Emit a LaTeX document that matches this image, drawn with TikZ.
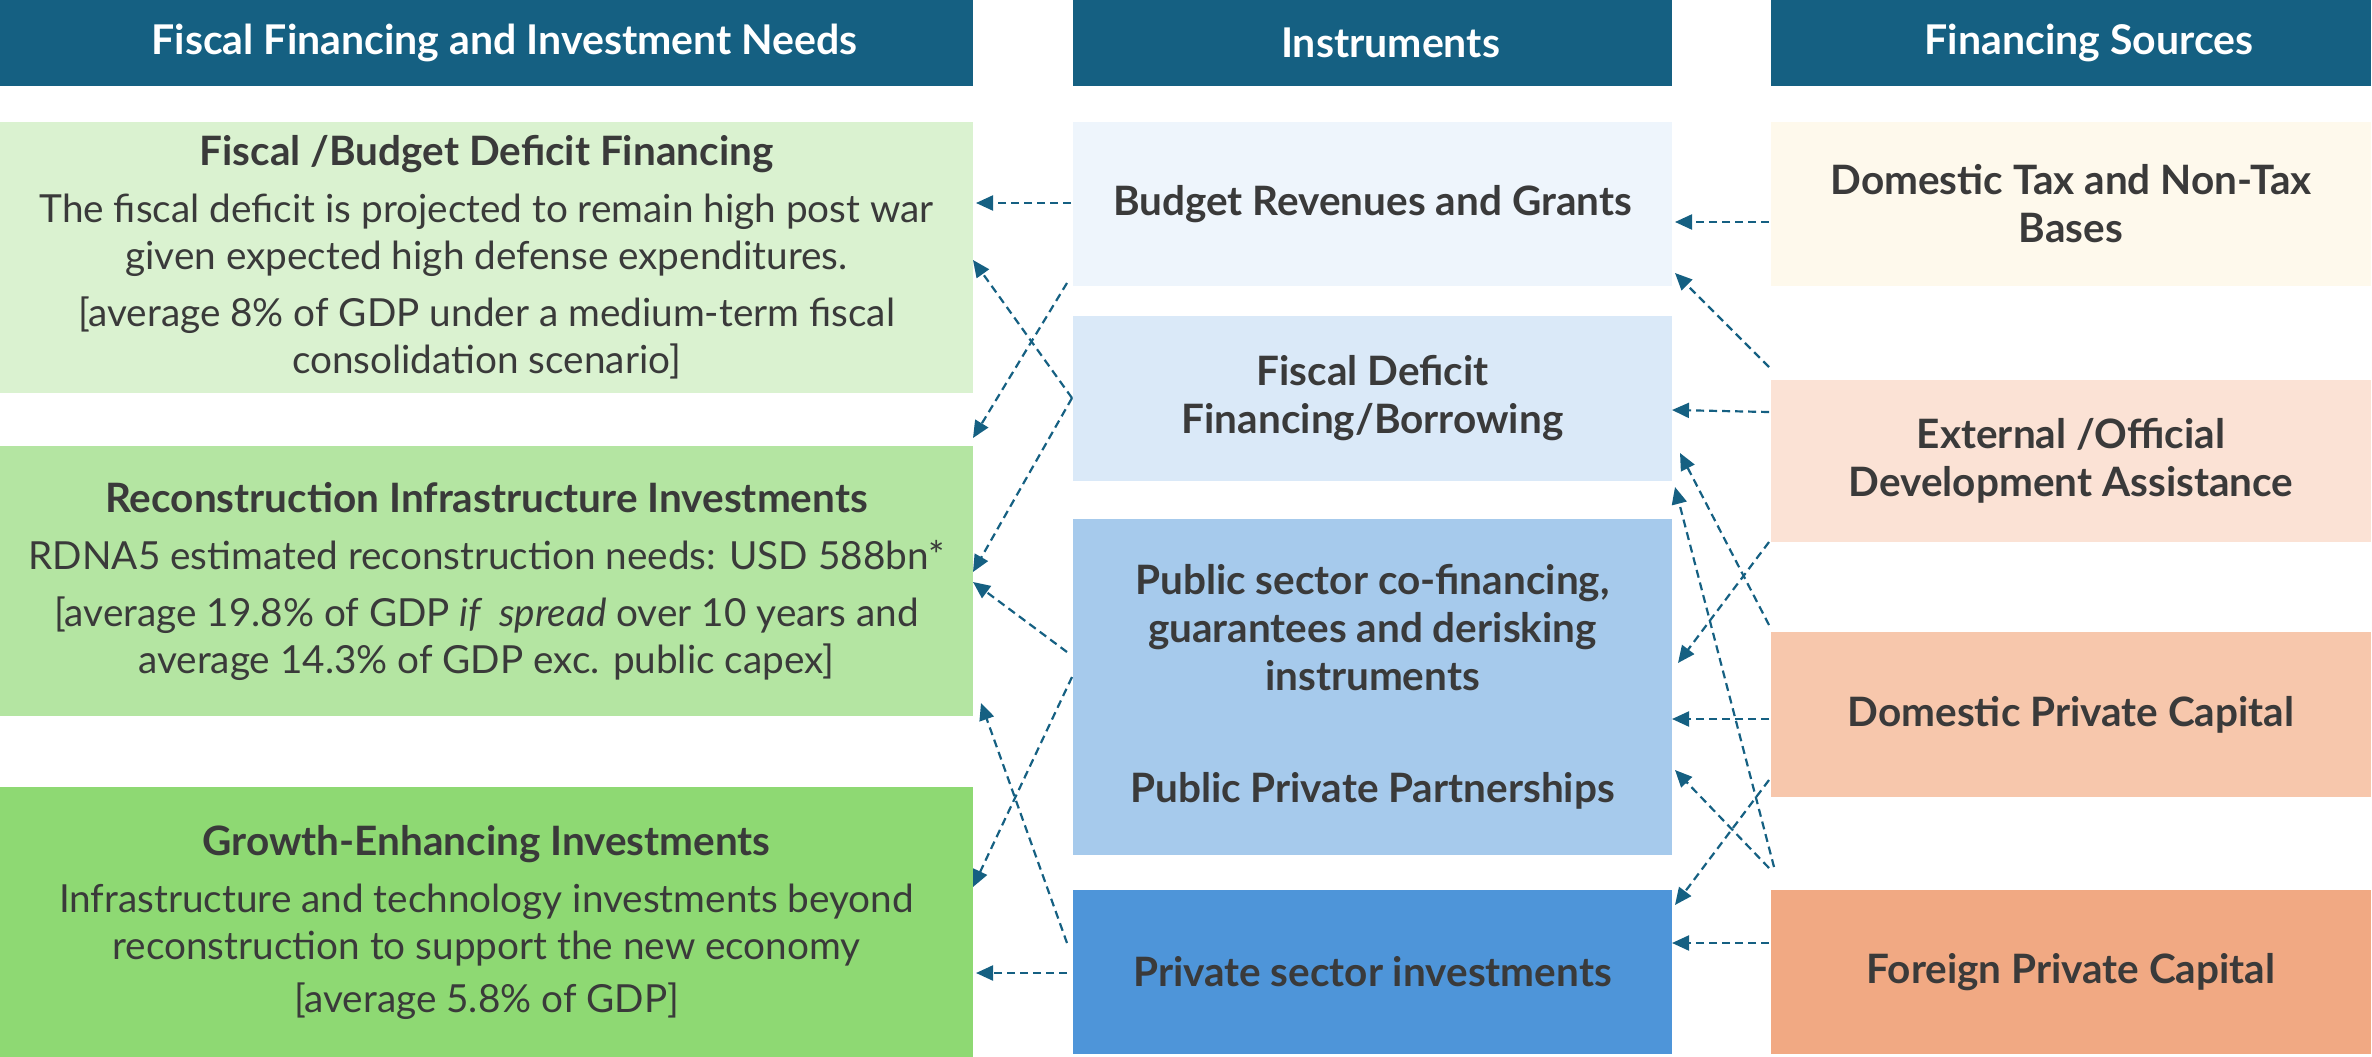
\documentclass[tikz,border=0pt]{standalone}
\usepackage{fontspec}
\setmainfont{Lato}
\usetikzlibrary{arrows.meta,calc}

\definecolor{headblue}{HTML}{156082}
\definecolor{ink}{HTML}{3A3A3A}
\definecolor{greenA}{HTML}{DAF2D0}
\definecolor{greenB}{HTML}{B4E5A2}
\definecolor{greenC}{HTML}{8ED973}
\definecolor{blueA}{HTML}{EEF5FC}
\definecolor{blueB}{HTML}{DAE9F8}
\definecolor{blueC}{HTML}{A6CAEC}
\definecolor{blueD}{HTML}{4E95D9}
\definecolor{creamA}{HTML}{FEF9EC}
\definecolor{orangeA}{HTML}{FBE2D5}
\definecolor{orangeB}{HTML}{F7C7AC}
\definecolor{orangeC}{HTML}{F1A983}

% bold face used for titles and labels
\newcommand{\boldtitle}[1]{{\fontsize{40.5}{47}\selectfont\bfseries #1}}
% header labels sit a little right of centre
\newcommand{\headtext}[1]{\hspace*{36pt}#1}

\tikzset{
  header/.style={fill=headblue, text=white, inner sep=0pt, outer sep=0pt,
    anchor=north west, minimum height=86pt,
    font=\fontsize{41}{48}\selectfont\bfseries},
  needbox/.style={inner sep=0pt, outer sep=0pt, anchor=north west,
    minimum width=973pt, text=ink, align=center,
    font=\fontsize{38.7}{47}\selectfont},
  instbox/.style={inner sep=0pt, outer sep=0pt, anchor=north west,
    minimum width=599pt, text=ink, align=center,
    font=\fontsize{40.5}{48}\selectfont\bfseries},
  srcbox/.style={inner sep=0pt, outer sep=0pt, anchor=north west,
    minimum width=600pt, text=ink, align=center,
    font=\fontsize{40.5}{48}\selectfont\bfseries},
  conn/.style={draw=headblue, line width=2.2pt, dash pattern=on 8pt off 5pt,
    -{Triangle[length=17pt,width=15pt]}},
}

\begin{document}
\begin{tikzpicture}[x=1pt,y=-1pt]
\useasboundingbox (0,0) rectangle (2372,1057);

% column headers
\node[header, minimum width=973pt] (h1) at (0,0) {\headtext{Fiscal Financing and Investment Needs}};
\node[header, minimum width=599pt] (h2) at (1073,0) {\headtext{Instruments}};
\node[header, minimum width=600pt] (h3) at (1771,0) {\headtext{Financing Sources}};

% needs
\node[needbox, fill=greenA, minimum height=271pt] (n1) at (0,122)
  {\boldtitle{Fiscal /Budget Deficit Financing}\\[10pt]
   The fiscal deficit is projected to remain high post war\\
   given expected high defense expenditures.\\[10pt]
   [average 8\% of GDP under a medium-term fiscal\\
   consolidation scenario]};
\node[needbox, fill=greenB, minimum height=270pt] (n2) at (0,446)
  {\boldtitle{Reconstruction Infrastructure Investments}\\[10pt]
   RDNA5 estimated reconstruction needs: USD 588bn*\\[10pt]
   [average 19.8\% of GDP \textit{if\ \ spread} over 10 years and\\
   average 14.3\% of GDP exc. public capex]};
\node[needbox, fill=greenC, minimum height=270pt] (n3) at (0,787)
  {\boldtitle{Growth-Enhancing Investments}\\[10pt]
   Infrastructure and technology investments beyond\\
   reconstruction to support the new economy\\[6pt]
   [average 5.8\% of GDP]};

% instruments
\node[instbox, fill=blueA, minimum height=164pt] (bud) at (1073,122)
  {Budget Revenues and Grants};
\node[instbox, fill=blueB, minimum height=165pt] (fdf) at (1073,316)
  {Fiscal Deficit\\Financing/Borrowing};
\node[instbox, fill=blueC, minimum height=336pt] (pub) at (1073,519)
  {Public sector co-financing,\\guarantees and derisking\\instruments\\[64pt]
   Public Private Partnerships};
\node[instbox, fill=blueD, minimum height=164pt] (prv) at (1073,890)
  {Private sector investments};

% financing sources
\node[srcbox, fill=creamA, minimum height=164pt] (dtx) at (1771,122)
  {Domestic Tax and Non-Tax\\Bases};
\node[srcbox, fill=orangeA, minimum height=162pt] (ext) at (1771,380)
  {External /Official\\Development Assistance};
\node[srcbox, fill=orangeB, minimum height=165pt] (dpc) at (1771,632)
  {Domestic Private Capital};
\node[srcbox, fill=orangeC, minimum height=164pt] (fpc) at (1771,890)
  {Foreign Private Capital};

% instruments -> needs
\draw[conn] ($(bud.north west)+(-2,81)$) -- ($(n1.north east)+(3,81)$);
\draw[conn] ($(bud.south west)+(-6,-3)$) -- ($(n2.north east)+(0,-8)$);
\draw[conn] ($(fdf.north west)+(-1,82)$) -- ($(n1.north east)+(0,138)$);
\draw[conn] ($(fdf.north west)+(-1,82)$) -- ($(n2.north east)+(0,126)$);
\draw[conn] ($(pub.north west)+(-6,133)$) -- ($(n2.north east)+(0,136)$);
\draw[conn] ($(pub.north west)+(-1,158)$) -- ($(n3.north east)+(0,100)$);
\draw[conn] ($(prv.north west)+(-6,53)$) -- ($(n2.south east)+(8,-13)$);
\draw[conn] ($(prv.north west)+(-6,83)$) -- ($(n3.north east)+(3,186)$);

% sources -> instruments
\draw[conn] ($(dtx.north west)+(-2,100)$) -- ($(bud.north east)+(3,100)$);
\draw[conn] ($(ext.north west)+(-2,-13)$) -- ($(bud.south east)+(3,-13)$);
\draw[conn] ($(ext.north west)+(-2,32)$) -- ($(fdf.north east)+(0,94)$);
\draw[conn] ($(dpc.north west)+(-2,-7)$) -- ($(fdf.south east)+(8,-28)$);
\draw[conn] ($(fpc.north west)+(3,-23)$) -- ($(fdf.south east)+(3,6)$);
\draw[conn] ($(ext.south west)+(-2,0)$) -- ($(pub.north east)+(6,144)$);
\draw[conn] ($(dpc.north west)+(-2,87)$) -- ($(pub.north east)+(0,200)$);
\draw[conn] ($(fpc.north west)+(-2,-22)$) -- ($(pub.north east)+(3,251)$);
\draw[conn] ($(dpc.south west)+(-2,-17)$) -- ($(prv.north east)+(3,15)$);
\draw[conn] ($(fpc.north west)+(-2,53)$) -- ($(prv.north east)+(0,53)$);
\end{tikzpicture}
\end{document}
